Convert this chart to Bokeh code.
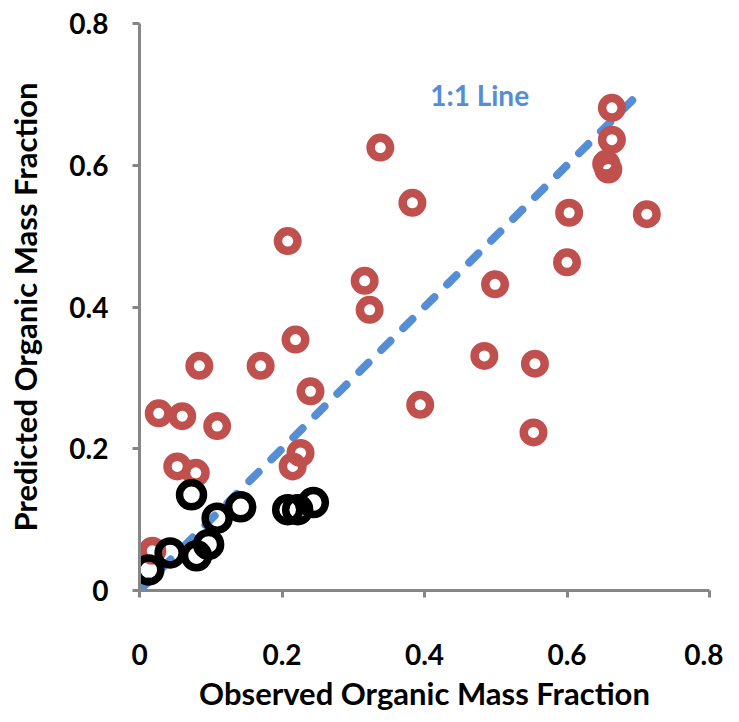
from bokeh.plotting import figure
from bokeh.models import FixedTicker, Range1d
from bokeh.core.properties import value
from bokeh.embed import file_html
from bokeh.resources import INLINE

# Data
red_x = [0.027, 0.060, 0.109, 0.053, 0.079, 0.240, 0.226, 0.215, 0.018,
         0.208, 0.316, 0.323, 0.219, 0.084, 0.170, 0.383, 0.394, 0.338,
         0.663, 0.663, 0.655, 0.658, 0.603, 0.712, 0.600, 0.499, 0.484,
         0.555, 0.553]
red_y = [0.250, 0.246, 0.232, 0.175, 0.166, 0.281, 0.194, 0.175, 0.056,
         0.493, 0.437, 0.396, 0.354, 0.317, 0.317, 0.547, 0.262, 0.625,
         0.681, 0.636, 0.602, 0.594, 0.533, 0.531, 0.463, 0.432, 0.331,
         0.320, 0.223]

black_x = [0.013, 0.043, 0.080, 0.097, 0.109, 0.142, 0.073, 0.208, 0.222, 0.244]
black_y = [0.029, 0.053, 0.049, 0.065, 0.102, 0.118, 0.135, 0.114, 0.114, 0.124]

line_x = [0.0, 0.7]
line_y = [0.0, 0.7]

ticks = [0, 0.2, 0.4, 0.6, 0.8]
tick_labels = ["0", "0.2", "0.4", "0.6", "0.8"]

FONT = "Lato"
AXIS_COLOR = "#868686"

p = figure(width=723, height=714, output_backend="svg", toolbar_location=None,
           x_range=Range1d(0, 0.8), y_range=Range1d(0, 0.8),
           min_border_left=139, min_border_right=14,
           min_border_top=23, min_border_bottom=121)
p.outline_line_color = None
p.xgrid.visible = False
p.ygrid.visible = False
p.background_fill_color = "white"
p.border_fill_color = "white"

# 1:1 line
p.line(line_x, line_y, line_color="#558ED5", line_width=8,
       line_dash="13 18", line_cap="round")

# red rings
p.scatter(red_x, red_y, marker="circle", size=19.5, fill_color=None,
          line_color="#C0504D", line_width=8.5)

# black rings
p.scatter(black_x, black_y, marker="circle", size=24, fill_color=None,
          line_color="#000000", line_width=7.5)

p.text(x=[0.408], y=[0.699], text=["1:1 Line"], text_font=value(FONT),
       text_font_style="bold", text_font_size="28px", text_color="#558ED5",
       text_baseline="alphabetic", text_align="left")

for ax in (p.xaxis[0], p.yaxis[0]):
    ax.ticker = FixedTicker(ticks=ticks)
    ax.major_label_overrides = {t: l for t, l in zip(ticks, tick_labels)}
    ax.axis_line_color = AXIS_COLOR
    ax.axis_line_width = 3
    ax.major_tick_line_color = AXIS_COLOR
    ax.major_tick_line_width = 3
    ax.major_tick_in = 0
    ax.major_tick_out = 7
    ax.minor_tick_line_color = None
    ax.major_label_text_font = FONT
    ax.major_label_text_font_style = "bold"
    ax.major_label_text_font_size = "28px"
    ax.major_label_text_color = "black"
    ax.axis_label_text_font = FONT
    ax.axis_label_text_font_style = "bold"
    ax.axis_label_text_font_size = "31px"
    ax.axis_label_text_color = "black"

p.xaxis[0].axis_label = "Observed Organic Mass Fraction"
p.yaxis[0].axis_label = "Predicted Organic Mass Fraction"
p.xaxis[0].major_label_standoff = 46
p.xaxis[0].axis_label_standoff = 6
p.yaxis[0].major_label_standoff = 24
p.yaxis[0].axis_label_standoff = 22

open("out.html", "w").write(file_html(p, INLINE))
